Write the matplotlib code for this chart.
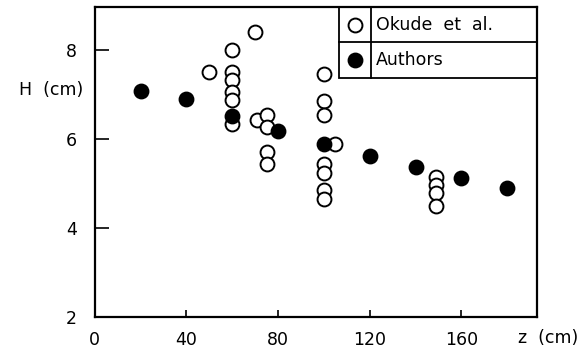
import matplotlib.pyplot as plt
from matplotlib.patches import Rectangle

plt.rcParams['font.family'] = ['DejaVu Sans']

# Okude et al. (open circles)
okude_z = [50, 60, 60, 60, 60, 60, 60, 70, 71, 75, 75, 75, 75,
           100, 100, 100, 105, 100, 100, 100, 100, 149, 149, 149, 149]
okude_h = [7.5, 8.0, 7.5, 7.33, 7.06, 6.88, 6.35, 8.42, 6.42, 6.55, 6.27, 5.72, 5.45,
           7.46, 6.85, 6.55, 5.88, 5.45, 5.23, 4.85, 4.65, 5.15, 4.97, 4.78, 4.5]

# Authors (filled circles)
auth_z = [20, 40, 60, 80, 100, 120, 140, 160, 180]
auth_h = [7.08, 6.9, 6.53, 6.18, 5.9, 5.63, 5.38, 5.13, 4.9]

x_ticks = [0, 40, 80, 120, 160]
y_ticks = [2, 4, 6, 8]

fig = plt.figure(figsize=(5.85, 3.53), dpi=100)
ax = fig.add_axes([0.162, 0.102, 0.756, 0.878])

ax.plot(okude_z, okude_h, 'o', ms=10, mfc='white', mec='black', mew=1.4, ls='none')
ax.plot(auth_z, auth_h, 'o', ms=10, mfc='black', mec='black', mew=1.4, ls='none')

ax.set_xlim(0, 193)
ax.set_ylim(2, 8.97)
ax.set_xticks(x_ticks)
ax.set_yticks(y_ticks)
ax.tick_params(axis='x', direction='in', length=5, width=1.2, labelsize=12.5, pad=10)
ax.tick_params(axis='y', direction='in', length=10, width=1.2, labelsize=12.5, pad=13)
for s in ax.spines.values():
    s.set_linewidth(1.6)

ax.text(-0.025, 0.732, 'H  (cm)', transform=ax.transAxes, ha='right', va='center',
        fontsize=12.5)
ax.text(1.025, -0.068, 'z  (cm)', transform=ax.transAxes, ha='center', va='center',
        fontsize=12.5)

# legend drawn as a small ruled table
x0, x1, xm = 0.552, 1.0, 0.624
y0, y1, ym = 0.771, 1.0, 0.886
ax.add_patch(Rectangle((x0, y0), x1 - x0, y1 - y0, transform=ax.transAxes,
                       fill=False, lw=1.3, ec='black', clip_on=False))
ax.plot([xm, xm], [y0, y1], transform=ax.transAxes, color='black', lw=1.3)
ax.plot([x0, x1], [ym, ym], transform=ax.transAxes, color='black', lw=1.3)
ax.plot([0.588], [0.943], 'o', transform=ax.transAxes, ms=10, mfc='white',
        mec='black', mew=1.4, clip_on=False)
ax.plot([0.588], [0.829], 'o', transform=ax.transAxes, ms=10, mfc='black',
        mec='black', mew=1.4, clip_on=False)
ax.text(0.636, 0.943, 'Okude  et  al.', transform=ax.transAxes, va='center',
        fontsize=12.5)
ax.text(0.636, 0.829, 'Authors', transform=ax.transAxes, va='center',
        fontsize=12.5)

fig.savefig('out.png', dpi=100)
